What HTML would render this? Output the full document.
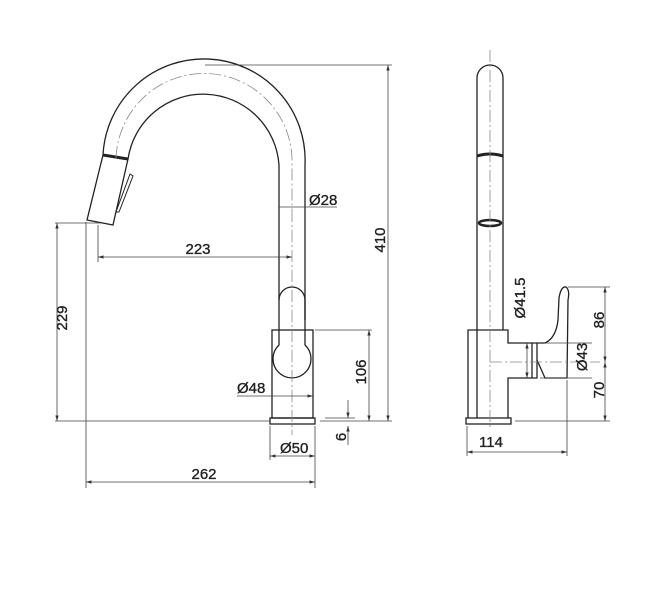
<!DOCTYPE html>
<html><head><meta charset="utf-8"><style>
html,body{margin:0;padding:0;background:#fff;}
svg{display:block;}
text{font-family:"Liberation Sans",sans-serif;font-size:15px;fill:#222;stroke:#222;stroke-width:0.35;}
</style></head><body>
<svg width="664" height="600" viewBox="0 0 664 600" xmlns="http://www.w3.org/2000/svg">
<defs>
<marker id="a" viewBox="0 0 10 10" refX="10" refY="5" markerWidth="7" markerHeight="7" orient="auto-start-reverse"><path d="M0,2 L10,5 L0,8 z" fill="#333"/></marker>
</defs>
<g fill="none" stroke="#222" stroke-width="1.3">
<path d="M103,155 A101,101 0 0 1 305,165 L305,320"/>
<path d="M128,159 A76,76 0 0 1 279,165 L279,300"/>
<path d="M103,155 L87,220 L113,225 L128,159"/>
<path d="M103,155 L128,159" stroke-width="3"/>
<path d="M130,174 L116,212 L119,212 L133,176 z" stroke-width="1"/>
<path d="M279,300 A13,13 0 0 1 305,300 L305,345 A19,19 0 1 1 279,345 z"/>
<rect x="272" y="330" width="41" height="88"/>
<rect x="270" y="418" width="45" height="6"/>
<path d="M477,418 L477,78 A13,13 0 0 1 503,78 L503,330"/>
<path d="M477,156 Q490,152 503,156" stroke-width="3"/>
<ellipse cx="490" cy="223" rx="11" ry="3" stroke-width="2.5"/>
<path d="M468,418 L468,330 L508,330 L508,343 L537,343 L537,378 L508,378 L508,418"/>
<rect x="466" y="418" width="45" height="6"/>
<path d="M537,343 L545,343 Q556,338 558,320 L559,298 Q561,286 566,287 Q570,290 568,300 L567,378 L545,378 L537,360"/>
<path d="M532,343 L532,378"/>
</g>
<g stroke="#888" stroke-width="0.8" stroke-dasharray="12,3,2,3" fill="none">
<path d="M292,210 L292,435"/>
<path d="M116,158 A88,88 0 0 1 292,165 L292,210"/>
<path d="M490,50 L490,430"/>
<path d="M490,362 L600,362"/>
</g>
<g stroke="#444" stroke-width="0.8" fill="none">
<path d="M55,421 L270,421 M320,421 L392,421"/>
<path d="M205,65 L392,65"/>
<path d="M388,65 L388,421" marker-start="url(#a)" marker-end="url(#a)"/>
<path d="M55,223 L100,223"/>
<path d="M57,223 L57,421" marker-start="url(#a)" marker-end="url(#a)"/>
<path d="M98,225 L98,262"/>
<path d="M98,257 L292,257" marker-start="url(#a)" marker-end="url(#a)"/>
<path d="M279,207 L337,207"/>
<path d="M315,330 L372,330"/>
<path d="M369,330 L369,421" marker-start="url(#a)" marker-end="url(#a)"/>
<path d="M237,396 L313,396" marker-end="url(#a)"/>
<path d="M348,400 L348,418" marker-end="url(#a)"/>
<path d="M348,445 L348,426" marker-end="url(#a)"/>
<path d="M325,418 L355,418"/>
<path d="M270,426 L270,460 M315,426 L315,488"/>
<path d="M270,456 L315,456" marker-start="url(#a)" marker-end="url(#a)"/>
<path d="M86,222 L86,488"/>
<path d="M86,482 L315,482" marker-start="url(#a)" marker-end="url(#a)"/>
<path d="M527,343 L527,378" marker-start="url(#a)" marker-end="url(#a)"/>
<path d="M568,287 L610,287 M545,343 L592,343 M540,378 L592,378 M515,421 L610,421"/>
<path d="M605,287 L605,362" marker-start="url(#a)" marker-end="url(#a)"/>
<path d="M605,362 L605,421" marker-start="url(#a)" marker-end="url(#a)"/>
<path d="M467,426 L467,456 M567,380 L567,456"/>
<path d="M467,452 L567,452" marker-start="url(#a)" marker-end="url(#a)"/>
</g>
<text x="309" y="205">Ø28</text>
<text x="198" y="254" text-anchor="middle">223</text>
<text x="237" y="393">Ø48</text>
<text x="280" y="453">Ø50</text>
<text x="204" y="479" text-anchor="middle">262</text>
<text x="491" y="447" text-anchor="middle">114</text>
<text transform="translate(385,240) rotate(-90)" text-anchor="middle">410</text>
<text transform="translate(67,318) rotate(-90)" text-anchor="middle">229</text>
<text transform="translate(366,372) rotate(-90)" text-anchor="middle">106</text>
<text transform="translate(346,437) rotate(-90)" text-anchor="middle">6</text>
<text transform="translate(525,298) rotate(-90)" text-anchor="middle">Ø41.5</text>
<text transform="translate(587,357) rotate(-90)" text-anchor="middle">Ø43</text>
<text transform="translate(604,320) rotate(-90)" text-anchor="middle">86</text>
<text transform="translate(604,390) rotate(-90)" text-anchor="middle">70</text>
</svg>
</body></html>
